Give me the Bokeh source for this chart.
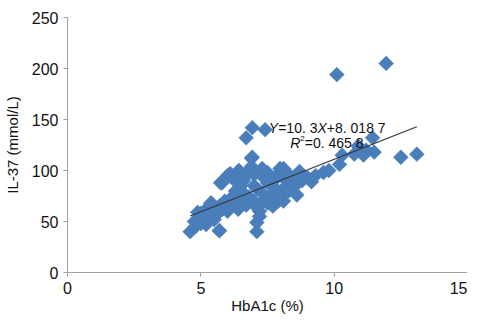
from bokeh.plotting import figure
from bokeh.models import Label, Range1d
from bokeh.embed import file_html
from bokeh.resources import INLINE

# HbA1c (%) and IL-37 (mmol/L) values
hba1c = [4.6, 4.8, 4.9, 5.0, 5.1, 5.2, 5.3, 5.0, 5.4, 5.5, 5.2, 5.6, 5.4, 5.7, 5.8,
         5.7, 5.9, 6.0, 6.2, 6.1, 4.76, 4.88, 5.37, 5.69,
         5.8, 6.0, 6.2, 6.4, 6.5, 6.3, 6.6, 6.7, 6.8, 6.9, 6.9, 7.0, 6.6, 6.8, 7.0,
         7.1, 6.5, 6.7, 6.4, 7.0, 7.1, 7.2, 7.1, 7.1, 7.2, 5.74, 6.1, 6.43,
         7.3, 7.4, 7.5, 7.5, 7.6, 7.7, 7.8, 7.6, 7.9, 7.4, 7.3, 7.7, 7.5, 8.0,
         8.1, 8.2, 7.85, 7.97, 8.3, 8.1, 8.4, 8.5, 8.6, 8.7, 8.8, 9.0, 9.15, 9.3,
         9.6, 9.8, 7.92, 8.1, 8.6, 8.3,
         6.93, 6.93, 7.41, 6.7,
         10.1, 11.95, 10.2, 10.3, 10.75, 10.9, 11.1, 11.44, 11.2, 11.5, 12.5, 13.1]
il37 = [40, 45, 50, 48, 53, 47, 55, 58, 60, 52, 62, 57, 68, 65, 62,
        41, 70, 60, 66, 72, 50, 59, 68, 41,
        88, 95, 92, 99, 85, 80, 90, 95, 100, 112, 104, 96, 78, 74, 85,
        82, 70, 66, 62, 70, 64, 60, 49, 40, 55, 88, 97, 100,
        102, 92, 88, 98, 94, 85, 80, 75, 70, 72, 78, 65, 68, 75,
        82, 90, 93, 102, 96, 70, 88, 84, 92, 99, 90, 93, 89, 95,
        98, 100, 97, 102, 76, 80,
        113, 142, 140, 132,
        194, 205, 106, 115, 116, 124, 115, 132, 120, 118, 113, 116]

# fitted line  Y = 10.3X + 8.0187
slope = 10.3
intercept = 8.0187

x_ticks = [0, 5, 10, 15]
y_ticks = [0, 50, 100, 150, 200, 250]
x_title = "HbA1c (%)"
y_title = "IL-37 (mmol/L)"

p = figure(width=467, height=316, output_backend="svg", toolbar_location=None,
           x_range=Range1d(0, 15), y_range=Range1d(0, 250),
           min_border_left=63, min_border_right=0, min_border_top=17,
           min_border_bottom=0)
p.outline_line_color = None
p.grid.visible = False
p.background_fill_color = "white"

p.scatter(hba1c, il37, marker="square", angle=0.7854, size=10.5,
          fill_color="#4A7EBB", line_color="#4A7EBB", line_width=0.5)

x0, x1 = min(hba1c), max(hba1c)
p.line([x0, x1], [slope * x0 + intercept, slope * x1 + intercept],
       line_color="#333333", line_width=1.2)

for ax in (p.xaxis[0], p.yaxis[0]):
    ax.axis_line_color = "#A0A0A0"
    ax.major_tick_line_color = "#A0A0A0"
    ax.major_tick_in = 0
    ax.major_tick_out = 4
    ax.minor_tick_line_color = None
    ax.major_label_text_font = "Liberation Sans"
    ax.major_label_text_font_size = "16px"
    ax.major_label_text_color = "#111111"
    ax.axis_label_text_font = "Liberation Sans"
    ax.axis_label_text_font_size = "15px"
    ax.axis_label_text_font_style = "normal"
    ax.axis_label_text_color = "#111111"

p.xaxis.ticker = x_ticks
p.yaxis.ticker = y_ticks
p.xaxis.axis_label = x_title
p.yaxis.axis_label = y_title
p.xaxis.major_label_standoff = 5
p.yaxis.major_label_standoff = 5
p.xaxis.axis_label_standoff = 0
p.yaxis.axis_label_standoff = 8

# equation annotation
fs = 14
font = "Liberation Sans"
line1 = [("Y", "italic"), ("=10. 3", "normal"), ("X", "italic"), ("+8. 018  7", "normal")]
w1 = [0.667, 2.808, 0.667, 4.476]
xs, ys = 7.55, 142.0
off = 0.0
for (t, st), w in zip(line1, w1):
    p.add_layout(Label(x=xs, y=ys, x_offset=off, text=t, text_font=font,
                       text_font_size=f"{fs}px", text_font_style=st,
                       text_color="#111111", text_baseline="alphabetic"))
    off += w * fs

xs2, ys2 = 8.35, 126.5
p.add_layout(Label(x=xs2, y=ys2, text="R", text_font=font, text_font_size=f"{fs}px",
                   text_font_style="italic", text_color="#111111",
                   text_baseline="alphabetic"))
p.add_layout(Label(x=xs2, y=ys2, x_offset=0.722 * fs, y_offset=5, text="2",
                   text_font=font, text_font_size="8px", text_color="#111111",
                   text_baseline="alphabetic"))
p.add_layout(Label(x=xs2, y=ys2, x_offset=0.722 * fs + 4.5, text="=0. 465  8",
                   text_font=font, text_font_size=f"{fs}px", text_color="#111111",
                   text_baseline="alphabetic"))

open("out.html", "w").write(file_html(p, INLINE))
